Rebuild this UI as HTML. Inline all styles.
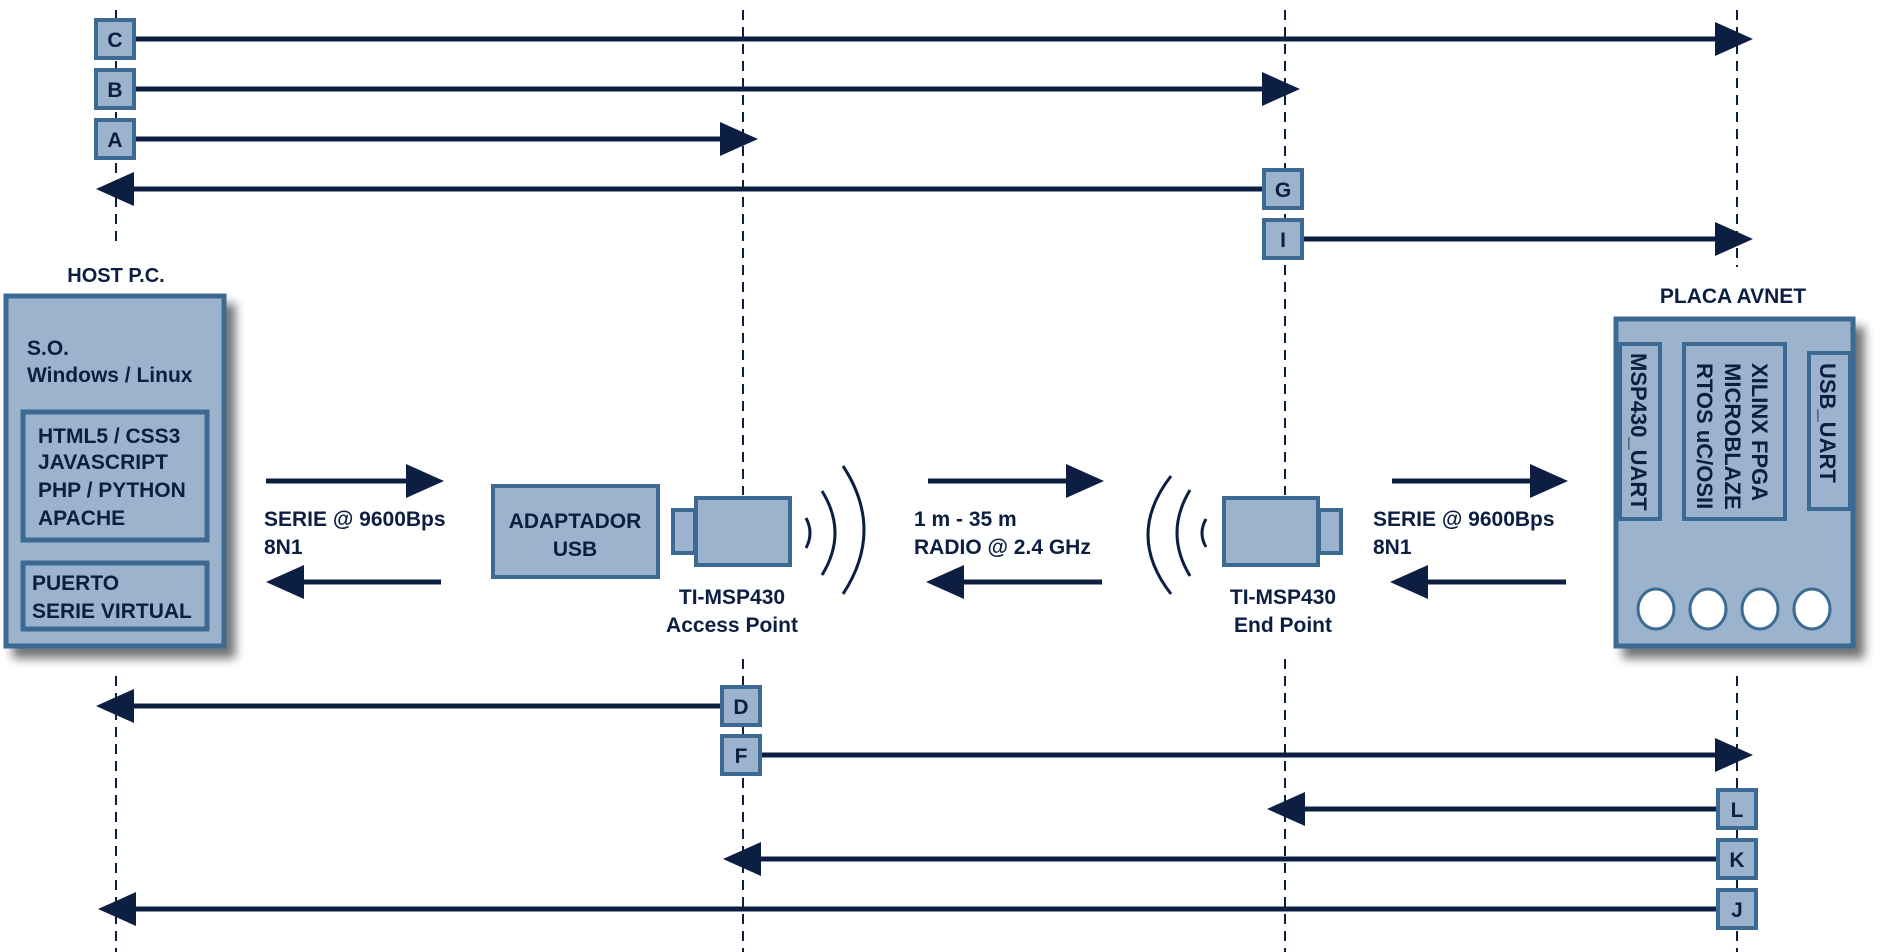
<!DOCTYPE html>
<html><head><meta charset="utf-8"><style>
html,body{margin:0;padding:0;background:#fff;}
svg{display:block}
text{font-family:"Liberation Sans",Arial,sans-serif;font-weight:bold;fill:#0c1e42;}
</style></head><body>
<svg width="1882" height="952" viewBox="0 0 1882 952" xmlns="http://www.w3.org/2000/svg">
<defs>
<filter id="sh" x="-10%" y="-10%" width="130%" height="130%">
<feGaussianBlur in="SourceAlpha" stdDeviation="5"/>
<feOffset dx="9" dy="10" result="b"/>
<feComponentTransfer><feFuncA type="linear" slope="0.55"/></feComponentTransfer>
<feMerge><feMergeNode/><feMergeNode in="SourceGraphic"/></feMerge>
</filter>
</defs>
<g stroke="#0c1e42" stroke-width="2" stroke-dasharray="10,7" fill="none">
<line x1="116" y1="10" x2="116" y2="248"/>
<line x1="116" y1="676" x2="116" y2="952"/>
<line x1="743" y1="10" x2="743" y2="495"/>
<line x1="743" y1="659" x2="743" y2="952"/>
<line x1="1285" y1="10" x2="1285" y2="495"/>
<line x1="1285" y1="659" x2="1285" y2="952"/>
<line x1="1737" y1="10" x2="1737" y2="267"/>
<line x1="1737" y1="676" x2="1737" y2="952"/>
</g>
<g stroke="#0c1e42" stroke-width="5">
<line x1="135" y1="39" x2="1725" y2="39"/>
<line x1="135" y1="89" x2="1272" y2="89"/>
<line x1="135" y1="139" x2="730" y2="139"/>
<line x1="126" y1="189" x2="1262" y2="189"/>
<line x1="1303" y1="239" x2="1725" y2="239"/>
<line x1="126" y1="706" x2="720" y2="706"/>
<line x1="761" y1="755" x2="1725" y2="755"/>
<line x1="1297" y1="809" x2="1716" y2="809"/>
<line x1="753" y1="859" x2="1716" y2="859"/>
<line x1="128" y1="909" x2="1716" y2="909"/>
<line x1="266" y1="481" x2="415" y2="481"/>
<line x1="296" y1="582" x2="441" y2="582"/>
<line x1="928" y1="481" x2="1075" y2="481"/>
<line x1="955" y1="582" x2="1102" y2="582"/>
<line x1="1392" y1="481" x2="1540" y2="481"/>
<line x1="1420" y1="582" x2="1566" y2="582"/>
</g>
<g fill="#0c1e42">
<polygon points="1715,22 1753,39 1715,56"/>
<polygon points="1262,72 1300,89 1262,106"/>
<polygon points="720,122 758,139 720,156"/>
<polygon points="134,172 96,189 134,206"/>
<polygon points="1715,222 1753,239 1715,256"/>
<polygon points="134,689 96,706 134,723"/>
<polygon points="1715,738 1753,755 1715,772"/>
<polygon points="1305,792 1267,809 1305,826"/>
<polygon points="761,842 723,859 761,876"/>
<polygon points="136,892 98,909 136,926"/>
<polygon points="406,464 444,481 406,498"/>
<polygon points="304,565 266,582 304,599"/>
<polygon points="1066,464 1104,481 1066,498"/>
<polygon points="964,565 926,582 964,599"/>
<polygon points="1530,464 1568,481 1530,498"/>
<polygon points="1428,565 1390,582 1428,599"/>
</g>
<g fill="#9bb3cc" stroke="#3d6a92" stroke-width="4">
<rect x="96" y="20" width="38" height="38"/>
<rect x="96" y="70" width="38" height="38"/>
<rect x="96" y="120" width="38" height="38"/>
<rect x="1264" y="170" width="38" height="38"/>
<rect x="1264" y="220" width="38" height="38"/>
<rect x="722" y="687" width="38" height="38"/>
<rect x="722" y="736" width="38" height="38"/>
<rect x="1718" y="790" width="38" height="38"/>
<rect x="1718" y="840" width="38" height="38"/>
<rect x="1718" y="890" width="38" height="38"/>
</g>
<g font-size="21" text-anchor="middle">
<text x="115" y="47">C</text>
<text x="115" y="97">B</text>
<text x="115" y="147">A</text>
<text x="1283" y="197">G</text>
<text x="1283" y="247">I</text>
<text x="741" y="714">D</text>
<text x="741" y="763">F</text>
<text x="1737" y="817">L</text>
<text x="1737" y="867">K</text>
<text x="1737" y="917">J</text>
</g>
<!-- Host -->
<text x="116" y="282" font-size="20" text-anchor="middle">HOST P.C.</text>
<rect x="6" y="296" width="218" height="350" fill="#9bb3cc" stroke="#3d6a92" stroke-width="5" filter="url(#sh)"/>
<rect x="23" y="412" width="184" height="128" fill="#9bb3cc" stroke="#3d6a92" stroke-width="5"/>
<rect x="23" y="563" width="184" height="66" fill="#9bb3cc" stroke="#3d6a92" stroke-width="5"/>
<g font-size="21">
<text x="27" y="355">S.O.</text>
<text x="27" y="382">Windows / Linux</text>
<text x="38" y="443">HTML5 / CSS3</text>
<text x="38" y="469">JAVASCRIPT</text>
<text x="38" y="497">PHP / PYTHON</text>
<text x="38" y="525">APACHE</text>
<text x="32" y="590">PUERTO</text>
<text x="32" y="618">SERIE VIRTUAL</text>
<text x="264" y="526">SERIE @ 9600Bps</text>
<text x="264" y="554">8N1</text>
<text x="914" y="526">1 m  -  35 m</text>
<text x="914" y="554">RADIO @ 2.4 GHz</text>
<text x="1373" y="526">SERIE @ 9600Bps</text>
<text x="1373" y="554">8N1</text>
</g>
<!-- Adapter -->
<rect x="493" y="486" width="165" height="91" fill="#9bb3cc" stroke="#3d6a92" stroke-width="4"/>
<text x="575" y="528" font-size="21" text-anchor="middle">ADAPTADOR</text>
<text x="575" y="556" font-size="21" text-anchor="middle">USB</text>
<g fill="#9bb3cc" stroke="#3d6a92" stroke-width="4">
<rect x="673" y="510" width="22" height="43"/>
<rect x="696" y="498" width="94" height="67"/>
<rect x="1224" y="498" width="94" height="67"/>
<rect x="1319" y="510" width="22" height="43"/>
</g>
<g fill="none" stroke="#0c1e42" stroke-width="3">
<path d="M806,518 Q814,533 806,548"/>
<path d="M822,491 Q848,533 822,575"/>
<path d="M843,466 Q885,530 843,594"/>
<path d="M1206,519 Q1198,533 1206,547"/>
<path d="M1190,490 Q1164,533 1190,576"/>
<path d="M1171,476 Q1125,535 1171,594"/>
</g>
<g font-size="21" text-anchor="middle">
<text x="732" y="604">TI-MSP430</text>
<text x="732" y="632">Access Point</text>
<text x="1283" y="604">TI-MSP430</text>
<text x="1283" y="632">End Point</text>
<text x="1733" y="303">PLACA AVNET</text>
</g>
<!-- Board -->
<rect x="1616" y="319" width="237" height="327" fill="#9bb3cc" stroke="#3d6a92" stroke-width="5" filter="url(#sh)"/>
<g fill="#9bb3cc" stroke="#3d6a92" stroke-width="4">
<rect x="1620" y="344" width="40" height="175"/>
<rect x="1684" y="344" width="101" height="175"/>
<rect x="1809" y="353" width="41" height="156"/>
</g>
<g font-size="22">
<text transform="translate(1631,353) rotate(90)">MSP430_UART</text>
<text transform="translate(1752,363) rotate(90)">XILINX FPGA</text>
<text transform="translate(1725,363) rotate(90)">MICROBLAZE</text>
<text transform="translate(1697,363) rotate(90)">RTOS uC/OSII</text>
<text transform="translate(1820,363) rotate(90)">USB_UART</text>
</g>
<g fill="#fff" stroke="#3d6a92" stroke-width="3">
<ellipse cx="1656" cy="609" rx="18" ry="20"/>
<ellipse cx="1708" cy="609" rx="18" ry="20"/>
<ellipse cx="1760" cy="609" rx="18" ry="20"/>
<ellipse cx="1812" cy="609" rx="18" ry="20"/>
</g>
</svg>
</body></html>
